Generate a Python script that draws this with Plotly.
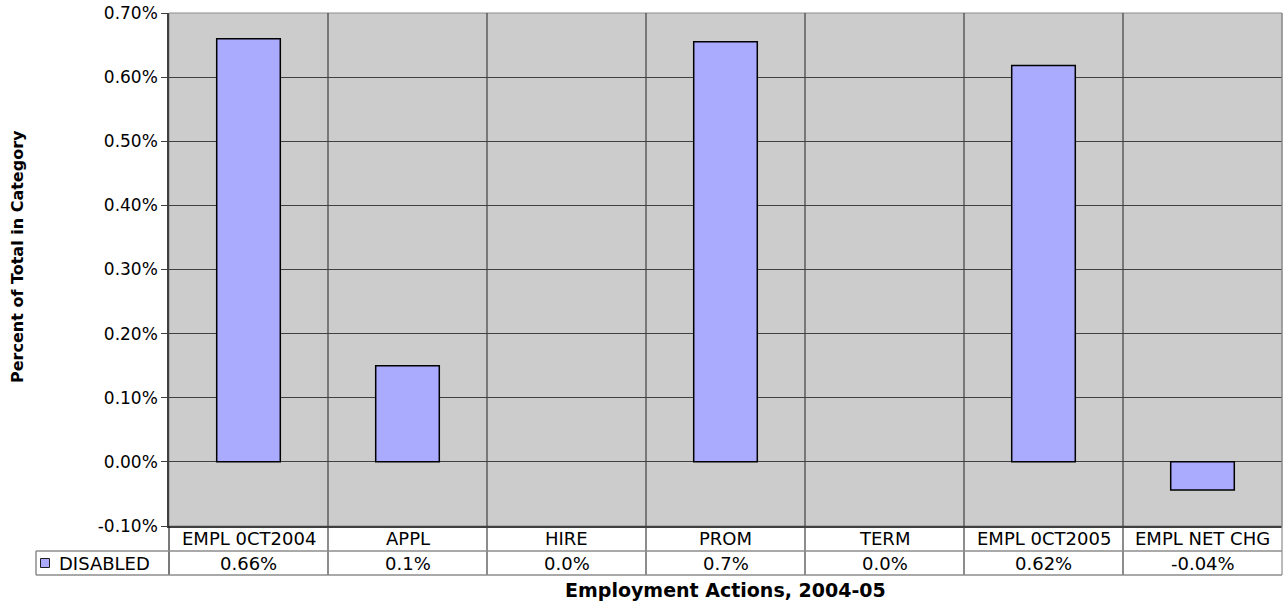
import plotly.graph_objects as go

# ---- data ----
categories = ["EMPL 0CT2004", "APPL", "HIRE", "PROM", "TERM", "EMPL 0CT2005", "EMPL NET CHG"]
disabled_pct = [0.66, 0.15, 0.0, 0.655, 0.0, 0.618, -0.044]
table_labels = ["0.66%", "0.1%", "0.0%", "0.7%", "0.0%", "0.62%", "-0.04%"]
y_ticks = [-0.1, 0.0, 0.1, 0.2, 0.3, 0.4, 0.5, 0.6, 0.7]
series_name = "DISABLED"
y_title = "Percent of Total in Category"
x_title = "Employment Actions, 2004-05"

# ---- layout helpers (pixel -> paper) ----
W, H = 1283, 602
L, R, T, B = 169, 1282, 13, 526
def px(x):
    return (x - L) / (R - L)
def py(y):
    return (B - y) / (B - T)

DARK = "#404040"
GRAY = "#8c8c8c"
FONT = "DejaVu Sans"
FS_TICK = 17
FS_TABLE = 18

fig = go.Figure()
fig.add_trace(go.Bar(
    x=list(range(len(categories))), y=disabled_pct, name=series_name,
    width=0.4,
    marker=dict(color="#AAAAFF",
                line=dict(color="black", width=[1.5 if v != 0 else 0 for v in disabled_pct])),
    showlegend=False,
))

shapes = []
n = len(categories)
shapes.append(dict(type="rect", xref="paper", yref="paper", x0=0, x1=1, y0=0, y1=1,
                   line=dict(color=GRAY, width=1), layer="below"))
for i in range(n - 1):
    shapes.append(dict(type="line", xref="x", yref="paper", x0=i + 0.5, x1=i + 0.5,
                       y0=py(575), y1=1, line=dict(color=DARK, width=1.2)))
shapes.append(dict(type="line", xref="paper", yref="paper", x0=0, x1=0,
                   y0=py(575), y1=0, line=dict(color="#202020", width=1.2)))
shapes.append(dict(type="line", xref="paper", yref="paper", x0=1, x1=1,
                   y0=py(575), y1=1, line=dict(color=GRAY, width=1.2)))
for yy in (551, 575):
    shapes.append(dict(type="line", xref="paper", yref="paper", x0=px(36), x1=1,
                       y0=py(yy), y1=py(yy), line=dict(color=GRAY, width=1.5)))
shapes.append(dict(type="line", xref="paper", yref="paper", x0=px(36), x1=px(36),
                   y0=py(575), y1=py(551), line=dict(color=GRAY, width=1.5)))
shapes.append(dict(type="rect", xref="paper", yref="paper", x0=px(40.5), x1=px(49.5),
                   y0=py(567.5), y1=py(558.5), fillcolor="#AAAAFF",
                   line=dict(color="#202020", width=1)))

annotations = []
for i, (c, v) in enumerate(zip(categories, table_labels)):
    annotations.append(dict(x=i, xref="x", y=py(538.5), yref="paper", text=c,
                            showarrow=False, xanchor="center", yanchor="middle",
                            font=dict(family=FONT, size=FS_TABLE, color="black")))
    annotations.append(dict(x=i, xref="x", y=py(563), yref="paper", text=v,
                            showarrow=False, xanchor="center", yanchor="middle",
                            font=dict(family=FONT, size=FS_TABLE, color="black")))
annotations.append(dict(x=px(57), xref="paper", y=py(563), yref="paper", text=series_name,
                        showarrow=False, xanchor="left", yanchor="middle",
                        font=dict(family=FONT, size=FS_TABLE, color="black")))
annotations.append(dict(x=0.5, xref="paper", y=py(590), yref="paper", text="<b>" + x_title + "</b>",
                        showarrow=False, xanchor="center", yanchor="middle",
                        font=dict(family=FONT, size=19, color="black")))
annotations.append(dict(x=px(17), xref="paper", y=py(257), yref="paper", text="<b>" + y_title + "</b>",
                        showarrow=False, xanchor="center", yanchor="middle", textangle=-90,
                        font=dict(family=FONT, size=16, color="black")))

fig.update_layout(
    width=W, height=H,
    margin=dict(l=L, r=W - R, t=T, b=H - B, pad=0),
    paper_bgcolor="white", plot_bgcolor="#CCCCCC",
    shapes=shapes, annotations=annotations,
    xaxis=dict(range=[-0.5, n - 0.5], showticklabels=False, showgrid=False, zeroline=False,
               showline=True, linecolor=DARK, linewidth=1.5, ticks=""),
    yaxis=dict(range=[-0.1, 0.7], tickmode="array", tickvals=y_ticks,
               ticktext=[f"{v:.2f}%" for v in y_ticks],
               showgrid=True, gridcolor=DARK, gridwidth=1.2, zeroline=False,
               showline=True, linecolor=DARK, linewidth=1.5,
               ticks="outside", ticklen=6, tickcolor=DARK,
               tickfont=dict(family=FONT, size=FS_TICK, color="black")),
)

fig.write_html("out.html", config={"displayModeBar": False},
               post_script="document.body.style.margin='0';document.body.style.padding='0';")
